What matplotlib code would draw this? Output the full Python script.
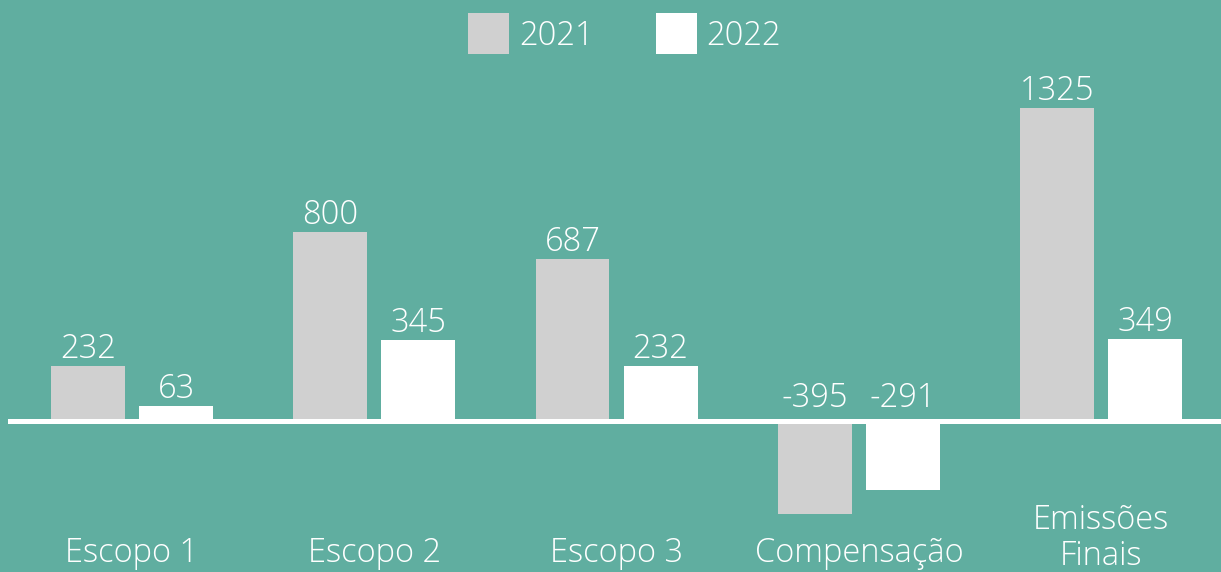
import numpy as np
import matplotlib
matplotlib.use('Agg')
import matplotlib.pyplot as plt
from matplotlib.patches import Patch

# Emissions by scope (tCO2e)
categories = ['Escopo 1', 'Escopo 2', 'Escopo 3', 'Compensação', 'Emissões\nFinais']
years = ['2021', '2022']
values_2021 = [232, 800, 687, -395, 1325]
values_2022 = [63, 345, 232, -291, 349]

bg = '#60AEA0'
colors = ['#D0D0D0', '#FFFFFF']
plt.rcParams['font.family'] = ['Open Sans', 'DejaVu Sans']
fs = 23.5
fw = 300

fig = plt.figure(figsize=(12.21, 5.72), dpi=100, facecolor=bg)
ax = fig.add_axes([0, 0, 1, 1])
ax.set_facecolor(bg)

x = np.arange(len(categories))
width = 0.305
offset = 0.182

for vals, col, dx, label in [(values_2021, colors[0], -offset, years[0]),
                             (values_2022, colors[1], offset, years[1])]:
    bars = ax.bar(x + dx, vals, width, color=col, label=label, zorder=2)
    for b, v in zip(bars, vals):
        # labels sit above the top edge, or above the zero line for negatives
        y = max(v, 0)
        ax.annotate(str(v), (b.get_x() + b.get_width() / 2, y),
                    xytext=(0, 0 if v > 0 else 4), textcoords='offset points',
                    ha='center', va='bottom', color='white', fontsize=fs,
                    fontweight=fw)

# zero line
ax.axhline(0, xmin=10 / 1221, xmax=1, color='white', lw=3.6, zorder=3)

ax.set_xlim(-0.545, 4.495)
ax.set_ylim(-639, 1782)

# category names along the bottom
for xi, cat in zip(x, categories):
    ypos = 10 / 572 if '\n' not in cat else 7 / 572
    ax.text(xi, ypos, cat, transform=ax.get_xaxis_transform(), ha='center',
            va='baseline', color='white', fontsize=fs, fontweight=fw,
            linespacing=1.1)

handles = [Patch(facecolor=c, edgecolor='none') for c in colors]
ax.legend(handles, years, loc='upper center', bbox_to_anchor=(0.5115, 1.028),
          ncol=2, frameon=False, handlelength=1.26,
          handleheight=1.55, handletextpad=0.3, columnspacing=1.9,
          labelcolor='white', prop={'weight': fw, 'size': fs})

ax.axis('off')

plt.savefig('out.png', dpi=100, facecolor=bg)
